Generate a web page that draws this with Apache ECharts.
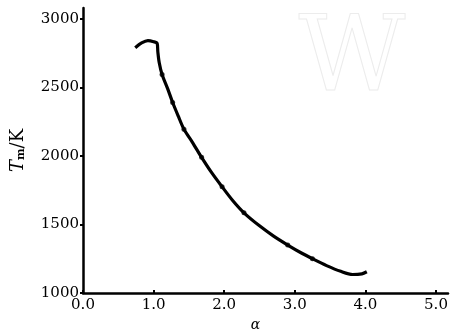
<!DOCTYPE html>
<html>
<head>
<meta charset="utf-8">
<script src="https://cdn.jsdelivr.net/npm/echarts@6/dist/echarts.min.js"></script>
<style>
  html, body { margin: 0; padding: 0; background: #fff; }
  #main { width: 456px; height: 329px; }
</style>
</head>
<body>
<div id="main"></div>
<script>
// curve: [alpha, Tm]
var curve = [
    [0.74, 2790], [0.83, 2825], [0.92, 2842], [1.00, 2834], [1.05, 2822],
    [1.06, 2760], [1.08, 2680], [1.12, 2595], [1.20, 2490], [1.27, 2390],
    [1.35, 2290], [1.43, 2195], [1.55, 2100], [1.68, 1990], [1.82, 1880],
    [1.97, 1775], [2.12, 1675], [2.28, 1585], [2.50, 1490], [2.70, 1415],
    [2.90, 1350], [3.10, 1290], [3.25, 1250], [3.45, 1200], [3.65, 1158],
    [3.82, 1135], [3.95, 1140], [4.02, 1155]
];
// small marked points along the curve
var marks = [
    [1.12, 2595], [1.27, 2390], [1.43, 2195], [1.68, 1990], [1.97, 1775],
    [2.28, 1585], [2.90, 1350], [3.25, 1250]
];
var xTicks = [0, 1, 2, 3, 4, 5];
var yTicks = [1000, 1500, 2000, 2500, 3000];

var chart = echarts.init(document.getElementById('main'), null, { renderer: 'canvas' });
var font = 'DejaVu Serif';

var option = {
    animation: false,
    backgroundColor: '#fff',
    grid: { left: 83, right: 8, top: 8, bottom: 36, containLabel: false, outerBoundsMode: 'none' },
    graphic: [{
        type: 'text',
        left: 298,
        top: 10,
        silent: true,
        style: {
            text: 'W',
            font: '104px "DejaVu Serif"',
            fill: 'rgba(0,0,0,0)',
            stroke: '#ececec',
            lineWidth: 1
        }
    }],
    xAxis: {
        type: 'value',
        min: 0,
        max: 5.17,
        name: 'α',
        nameLocation: 'middle',
        nameGap: 17,
        nameTextStyle: { fontFamily: font, fontStyle: 'italic', fontSize: 14, color: '#000', padding: [0, 20, 0, 0] },
        axisLine: { show: true, onZero: false, lineStyle: { color: '#000', width: 2.5 } },
        axisTick: { show: true, inside: true, length: 3, customValues: xTicks, lineStyle: { color: '#000', width: 2 } },
        axisLabel: {
            customValues: xTicks,
            fontFamily: font, fontSize: 15, color: '#000', margin: 5,
            formatter: function (v) { return v.toFixed(1); }
        },
        splitLine: { show: false }
    },
    yAxis: {
        type: 'value',
        min: 1000,
        max: 3080,
        name: '{i|T}{s|m}/K',
        nameLocation: 'middle',
        nameGap: 56,
        nameRotate: 90,
        nameTextStyle: {
            fontFamily: font, fontSize: 18, color: '#000',
            rich: {
                i: { fontFamily: font, fontStyle: 'italic', fontSize: 18, color: '#000' },
                s: { fontFamily: font, fontSize: 11, fontWeight: 'bold', color: '#000', verticalAlign: 'bottom', padding: [7, 0, 0, 0] }
            }
        },
        axisLine: { show: true, onZero: false, lineStyle: { color: '#000', width: 2.5 } },
        axisTick: { show: true, inside: false, length: 3, customValues: yTicks, lineStyle: { color: '#000', width: 2 } },
        axisLabel: {
            customValues: yTicks,
            fontFamily: font, fontSize: 15, color: '#000', margin: 4,
            formatter: function (v) { return String(v); }
        },
        splitLine: { show: false }
    },
    series: [{
        type: 'line',
        data: curve,
        smooth: 0.3,
        symbol: 'none',
        lineStyle: { color: '#000', width: 3.2 }
    }, {
        type: 'scatter',
        data: marks,
        symbol: 'circle',
        symbolSize: 5,
        itemStyle: { color: '#000' }
    }]
};
chart.setOption(option);
</script>
</body>
</html>
